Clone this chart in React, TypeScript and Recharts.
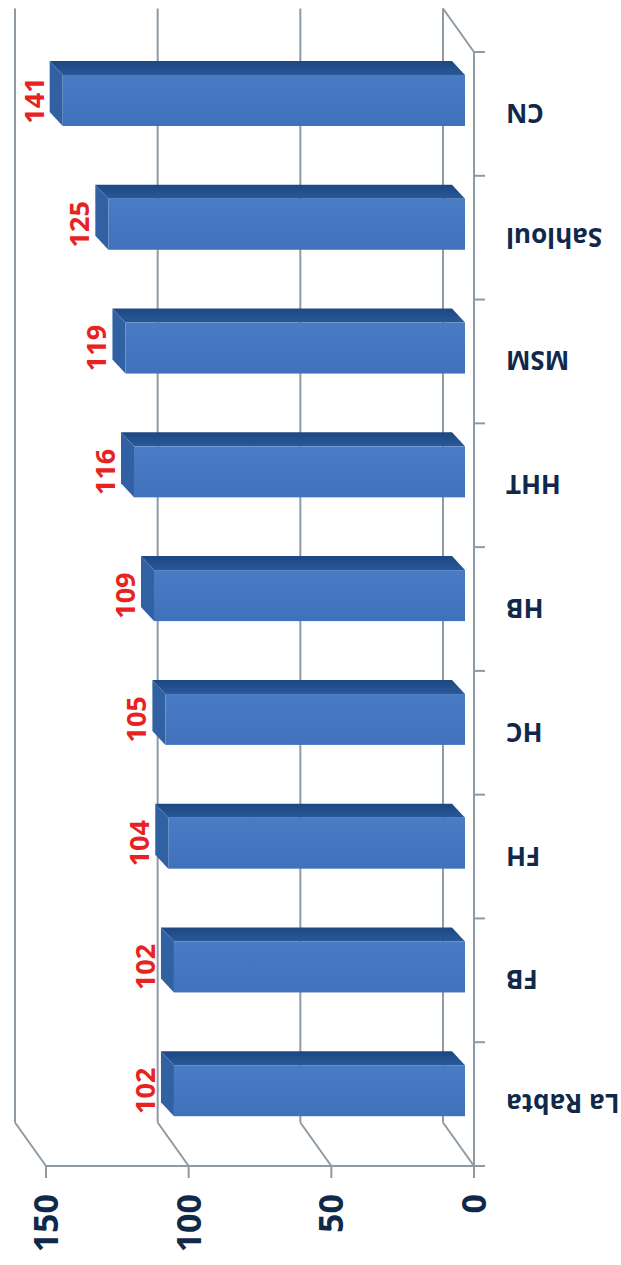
import { BarChart, Bar, XAxis, YAxis, CartesianGrid, LabelList } from "recharts";

const categories = ["CN", "Sahloul", "MSM", "HHT", "HB", "HC", "FH", "FB", "La Rabta"];
const values = [141, 125, 119, 116, 109, 105, 104, 102, 102];
const xTicks = [0, 50, 100, 150];

const data = categories.map((name, i) => ({ name, value: values[i] }));

const W = 621;
const H = 1265;
const margin = { top: 52, right: 7, bottom: 9, left: 46 };
const X_AXIS_H = 90;
const Y_AXIS_W = 140;
const BAND = (H - margin.top - margin.bottom - X_AXIS_H) / categories.length;

// 3D offsets
const WALL_DX = -31;
const WALL_DY = -43.5;
const FRONT_DX = -9;
const FRONT_DY = -13;
const DEPTH_DX = -13;
const DEPTH_DY = -14;

const GRID = "#8e9ba4";
const NAVY = "#10294b";
const RED = "#e8231f";
const FONT = "'Open Sans', 'DejaVu Sans', sans-serif";

const gridLine = (p: any) => {
  const x = p.x1;
  const top = Math.min(p.y1, p.y2);
  const bot = Math.max(p.y1, p.y2);
  const bx = x + WALL_DX;
  const bt = top + WALL_DY;
  const bb = bot + WALL_DY;
  const isZero =
    p.x !== undefined && p.width !== undefined ? Math.abs(x - (p.x + p.width)) < 1 : p.index === 0;
  return (
    <g key={p.key ?? `g-${p.index}`}>
      <line x1={bx} y1={bt} x2={bx} y2={bb} stroke={GRID} strokeWidth={2} />
      <line x1={bx} y1={bb} x2={x} y2={bot} stroke={GRID} strokeWidth={2} />
      {isZero && <line x1={bx} y1={bt} x2={x} y2={top} stroke={GRID} strokeWidth={2} />}
    </g>
  );
};

const Bar3D = (p: any) => {
  const { x, y, width, height, index } = p;
  const l = Math.min(x, x + width) + FRONT_DX;
  const r = Math.max(x, x + width) + FRONT_DX;
  const t = y + FRONT_DY;
  const b = y + height + FRONT_DY;
  const dx = DEPTH_DX;
  const dy = DEPTH_DY;
  return (
    <g>
      <defs>
        <linearGradient id={`front-${index}`} x1="0" y1="0" x2="0" y2="1">
          <stop offset="0%" stopColor="#4a7cc5" />
          <stop offset="100%" stopColor="#4072bb" />
        </linearGradient>
        <linearGradient id={`top-${index}`} x1="0" y1="0" x2="0" y2="1">
          <stop offset="0%" stopColor="#1c4782" />
          <stop offset="100%" stopColor="#2a5898" />
        </linearGradient>
      </defs>
      <polygon
        points={`${l},${t} ${r},${t} ${r + dx},${t + dy} ${l + dx},${t + dy}`}
        fill={`url(#top-${index})`}
      />
      <polygon
        points={`${l},${t} ${l},${b} ${l + dx},${b + dy} ${l + dx},${t + dy}`}
        fill="#3161a3"
      />
      <rect x={l} y={t} width={r - l} height={b - t} fill={`url(#front-${index})`} />
    </g>
  );
};

const ValueLabel = (p: any) => {
  const { x, y, width, height, value } = p;
  const lx = Math.min(x, x + width) + FRONT_DX + DEPTH_DX - 6;
  const cy = y + height / 2 + FRONT_DY;
  return (
    <text
      x={lx}
      y={cy}
      transform={`rotate(-90 ${lx} ${cy})`}
      textAnchor="middle"
      fill={RED}
      fontSize={27}
      fontWeight={700}
      fontFamily={FONT}
    >
      {value}
    </text>
  );
};

const XTick = (p: any) => {
  const { x, y, payload } = p;
  const bx = x + 12;
  return (
    <text
      x={bx}
      y={y}
      transform={`rotate(-90 ${bx} ${y})`}
      textAnchor="end"
      fill={NAVY}
      fontSize={34}
      fontWeight={700}
      fontFamily={FONT}
    >
      {payload.value}
    </text>
  );
};

const CatTick = (p: any) => {
  const { x, y, payload, index } = p;
  const tx = x + 32;
  const last = index === categories.length - 1;
  return (
    <g>
      <line x1={x} y1={y - BAND / 2} x2={x + 11} y2={y - BAND / 2} stroke={GRID} strokeWidth={2} />
      {last && <line x1={x} y1={y + BAND / 2} x2={x + 11} y2={y + BAND / 2} stroke={GRID} strokeWidth={2} />}
      <text
        x={tx}
        y={y}
        transform={`rotate(180 ${tx} ${y})`}
        textAnchor="end"
        dominantBaseline="central"
        fill={NAVY}
        fontSize={26}
        fontWeight={700}
        fontFamily={FONT}
      >
        {payload.value}
      </text>
    </g>
  );
};

export default function App() {
  return (
    <div style={{ position: "absolute", left: 0, top: 0, width: W, height: H, background: "#fff" }}>
      <BarChart width={W} height={H} data={data} layout="vertical" margin={margin}>
        <CartesianGrid horizontal={false} vertical={gridLine} />
        <XAxis
          type="number"
          domain={[0, 150]}
          ticks={xTicks}
          reversed
          height={X_AXIS_H}
          axisLine={{ stroke: GRID, strokeWidth: 2 }}
          tickLine={{ stroke: GRID, strokeWidth: 2 }}
          tickSize={12}
          tickMargin={16}
          tick={XTick}
          interval={0}
        />
        <YAxis
          type="category"
          dataKey="name"
          orientation="right"
          width={Y_AXIS_W}
          axisLine={{ stroke: GRID, strokeWidth: 2 }}
          tickLine={false}
          tickSize={0}
          tickMargin={0}
          tick={CatTick}
          interval={0}
        />
        <Bar dataKey="value" barSize={51} shape={Bar3D} isAnimationActive={false}>
          <LabelList dataKey="value" content={ValueLabel} />
        </Bar>
      </BarChart>
    </div>
  );
}
